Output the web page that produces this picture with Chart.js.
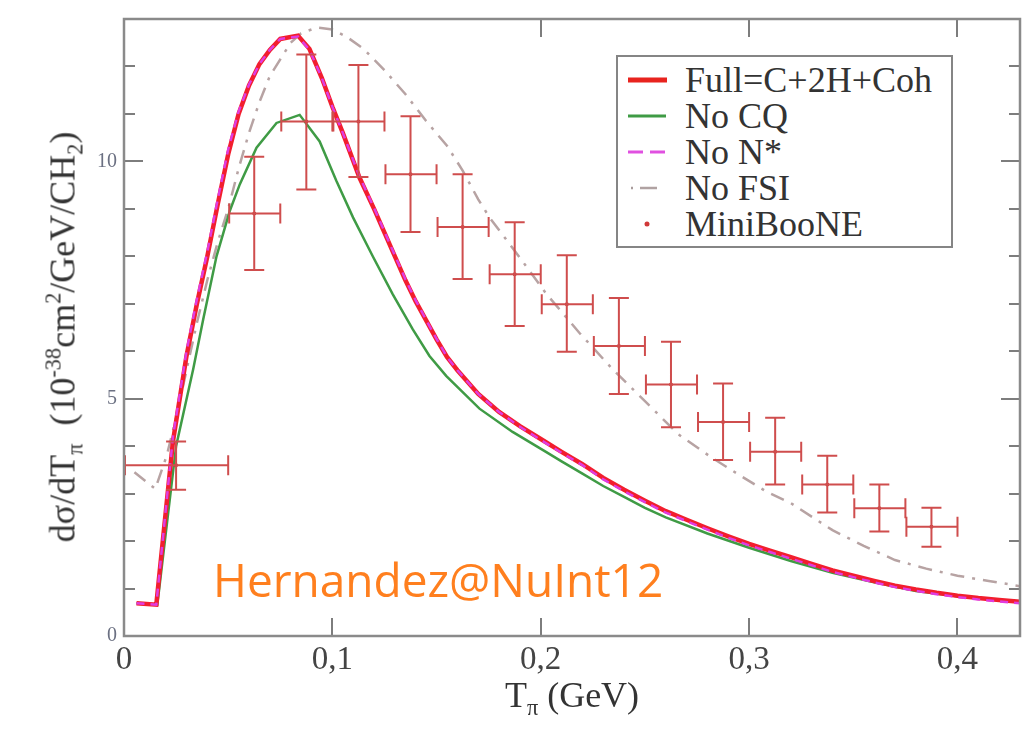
<!DOCTYPE html>
<html><head><meta charset="utf-8">
<script src="https://cdn.jsdelivr.net/npm/chart.js@4.4.0/dist/chart.umd.min.js"></script>
<style>
html,body{margin:0;padding:0;background:#fff;}
#wrap{position:relative;width:1032px;height:732px;overflow:hidden;background:#fff;}
#c{position:absolute;left:0;top:0;}
.serif, .serif *{font-family:"Liberation Serif","Times New Roman",serif;}
.serif{color:#333;}
.sup{font-size:0.62em;position:relative;top:-0.62em;}
.sub{font-size:0.62em;position:relative;top:0.38em;}
#ytitle{position:absolute;left:65px;top:337px;transform:translate(-50%,-50%) rotate(-90deg);white-space:nowrap;font-size:36px;line-height:40px;}
#xtitle{position:absolute;left:572px;top:697px;transform:translate(-50%,-50%);white-space:nowrap;font-size:36px;line-height:40px;}
#legend{position:absolute;left:616px;top:55px;width:333px;height:189px;border:2px solid #858585;background:#fff;}
.row{position:absolute;left:0;width:333px;height:36px;}
.row svg{position:absolute;left:10px;top:0;}
.row span{position:absolute;left:67px;top:0;line-height:36px;font-size:36px;white-space:nowrap;color:#333;}
#stamp{position:absolute;left:213px;top:556px;font-family:"Open Sans",sans-serif;font-size:46px;line-height:46px;color:#ff7f1e;white-space:nowrap;}
</style>
</head><body>
<div id="wrap">
<canvas id="c" width="1032" height="732"></canvas>
<div id="ytitle" class="serif">dσ/dT<span class="sub">π</span>&nbsp; (10<span class="sup">-38</span>cm<span class="sup">2</span>/GeV/CH<span class="sub">2</span>)</div>
<div id="xtitle" class="serif">T<span class="sub">π</span> (GeV)</div>
<div id="stamp">Hernandez@NuInt12</div>
<div id="legend" class="serif">
  <div class="row" style="top:5px"><svg width="45" height="36"><line x1="0" y1="18" x2="39" y2="18" stroke="#e8231e" stroke-width="5"/></svg><span>Full=C+2H+Coh</span></div>
  <div class="row" style="top:41px"><svg width="45" height="36"><line x1="0" y1="18" x2="38" y2="18" stroke="#3f9b45" stroke-width="3"/></svg><span>No CQ</span></div>
  <div class="row" style="top:77px"><svg width="45" height="36"><line x1="0" y1="18" x2="15" y2="18" stroke="#e050e0" stroke-width="3"/><line x1="22" y1="18" x2="37" y2="18" stroke="#e050e0" stroke-width="3"/></svg><span>No N*</span></div>
  <div class="row" style="top:113px"><svg width="45" height="36"><line x1="3" y1="18" x2="5" y2="18" stroke="#a99c9c" stroke-width="2.5"/><line x1="12" y1="18" x2="29" y2="18" stroke="#b0a2a2" stroke-width="2.5"/></svg><span>No FSI</span></div>
  <div class="row" style="top:149px"><svg width="45" height="36"><circle cx="19" cy="18" r="2.5" fill="#d03838"/></svg><span>MiniBooNE</span></div>
</div>
</div>
<script>
// ---- data (T_pi in GeV, cross section in 1e-38 cm^2/GeV/CH2) ----
const fullT = [0.006, 0.0155, 0.0235, 0.03, 0.035, 0.04, 0.045, 0.05, 0.055, 0.06, 0.065, 0.07, 0.075, 0.0835, 0.089, 0.095, 0.1, 0.105, 0.113, 0.12, 0.125, 0.13, 0.135, 0.14, 0.145, 0.15, 0.155, 0.16, 0.17, 0.18, 0.19, 0.2, 0.21, 0.22, 0.23, 0.24, 0.25, 0.26, 0.27, 0.28, 0.29, 0.3, 0.31, 0.32, 0.33, 0.34, 0.35, 0.36, 0.37, 0.38, 0.39, 0.4, 0.41, 0.42, 0.43];
const fullY = [0.69, 0.66, 4.1, 5.9, 7.0, 8.0, 9.1, 10.15, 11.0, 11.6, 12.05, 12.35, 12.58, 12.65, 12.37, 11.75, 11.15, 10.6, 9.66, 9.0, 8.5, 8.0, 7.5, 7.05, 6.65, 6.25, 5.88, 5.6, 5.1, 4.72, 4.42, 4.15, 3.88, 3.62, 3.33, 3.08, 2.85, 2.63, 2.45, 2.27, 2.1, 1.94, 1.8, 1.66, 1.52, 1.38, 1.27, 1.16, 1.06, 0.98, 0.91, 0.85, 0.8, 0.76, 0.72];
const noNstarY = [0.69, 0.66, 4.2, 6.0, 7.1, 8.1, 9.2, 10.25, 11.05, 11.62, 12.05, 12.35, 12.58, 12.63, 12.35, 11.75, 11.15, 10.6, 9.68, 9.02, 8.52, 8.02, 7.52, 7.07, 6.66, 6.26, 5.88, 5.6, 5.1, 4.72, 4.41, 4.13, 3.86, 3.6, 3.3, 3.05, 2.82, 2.6, 2.42, 2.24, 2.07, 1.91, 1.77, 1.63, 1.49, 1.35, 1.24, 1.13, 1.03, 0.95, 0.88, 0.82, 0.77, 0.73, 0.69];
const noCQT = [0.006, 0.016, 0.025, 0.0332, 0.038, 0.0444, 0.0508, 0.0556, 0.0636, 0.0732, 0.0843, 0.0939, 0.1019, 0.1099, 0.1195, 0.129, 0.1386, 0.1466, 0.1546, 0.1706, 0.1865, 0.2025, 0.21, 0.22, 0.23, 0.24, 0.25, 0.26, 0.28, 0.3, 0.32, 0.34, 0.36, 0.38, 0.4, 0.43];
const noCQY = [0.69, 0.66, 4.0, 5.62, 6.67, 8.0, 8.96, 9.52, 10.29, 10.81, 10.98, 10.42, 9.59, 8.82, 7.99, 7.2, 6.46, 5.90, 5.48, 4.79, 4.30, 3.88, 3.68, 3.42, 3.16, 2.93, 2.7, 2.5, 2.16, 1.86, 1.58, 1.33, 1.13, 0.95, 0.84, 0.72];
const noFSIT = [0.005, 0.015, 0.0205, 0.025, 0.03, 0.035, 0.04, 0.045, 0.05, 0.055, 0.06, 0.065, 0.07, 0.075, 0.08, 0.085, 0.0925, 0.1, 0.107, 0.115, 0.125, 0.135, 0.145, 0.155, 0.1626, 0.17, 0.1754, 0.19, 0.2025, 0.2185, 0.2345, 0.25, 0.266, 0.282, 0.295, 0.308, 0.32, 0.34, 0.355, 0.37, 0.385, 0.4, 0.415, 0.43];
const noFSIY = [3.45, 3.1, 3.8, 4.6, 5.6, 6.6, 7.5, 8.3, 9.0, 9.85, 10.6, 11.25, 11.8, 12.15, 12.5, 12.7, 12.82, 12.78, 12.62, 12.37, 11.92, 11.42, 10.85, 10.33, 9.8, 9.2, 8.82, 7.97, 7.22, 6.39, 5.62, 4.95, 4.25, 3.76, 3.4, 3.05, 2.8, 2.23, 1.9, 1.6, 1.42, 1.27, 1.16, 1.05];
const mbT = [0.025, 0.0625, 0.0875, 0.1125, 0.1375, 0.1625, 0.1875, 0.2125, 0.2375, 0.2625, 0.2875, 0.3125, 0.3375, 0.3625, 0.3875];
const mbY = [3.6, 8.9, 10.84, 10.84, 9.73, 8.62, 7.62, 6.99, 6.11, 5.30, 4.51, 3.88, 3.19, 2.69, 2.30];
const mbLow = [3.08, 7.71, 9.41, 9.67, 8.51, 7.52, 6.53, 5.99, 5.10, 4.4, 3.71, 3.19, 2.6, 2.2, 1.88];
const mbHigh = [4.1, 10.1, 12.25, 12.03, 10.95, 9.73, 8.72, 8.02, 7.12, 6.2, 5.32, 4.6, 3.8, 3.19, 2.7];
const mbHalfBin = [0.025, 0.0125, 0.0125, 0.0125, 0.0125, 0.0125, 0.0125, 0.0125, 0.0125, 0.0125, 0.0125, 0.0125, 0.0125, 0.0125, 0.0125];
const xTickStep = 0.1;
const yTickStep = 1;
const yLabelEvery = 5;

const pts = (xs, ys) => xs.map((v, i) => ({x: v, y: ys[i]}));

const errorBars = {
  id: 'errorBars',
  afterDatasetsDraw(chart) {
    const {ctx, scales: {x, y}} = chart;
    ctx.save();
    ctx.beginPath();
    ctx.rect(chart.chartArea.left, chart.chartArea.top, chart.chartArea.width, chart.chartArea.height);
    ctx.clip();
    ctx.strokeStyle = '#cf4d4d';
    ctx.lineWidth = 2;
    const cap = 10;
    for (let i = 0; i < mbT.length; i++) {
      const px = x.getPixelForValue(mbT[i]);
      const py = y.getPixelForValue(mbY[i]);
      const x0 = x.getPixelForValue(mbT[i] - mbHalfBin[i]);
      const x1 = x.getPixelForValue(mbT[i] + mbHalfBin[i]);
      const y0 = y.getPixelForValue(mbLow[i]);
      const y1 = y.getPixelForValue(mbHigh[i]);
      ctx.beginPath();
      ctx.moveTo(x0, py); ctx.lineTo(x1, py);
      ctx.moveTo(x0 + 1, py - cap); ctx.lineTo(x0 + 1, py + cap);
      ctx.moveTo(x1, py - cap); ctx.lineTo(x1, py + cap);
      ctx.moveTo(px, y0); ctx.lineTo(px, y1);
      ctx.moveTo(px - cap, y0); ctx.lineTo(px + cap, y0);
      ctx.moveTo(px - cap, y1); ctx.lineTo(px + cap, y1);
      ctx.stroke();
    }
    ctx.restore();
  }
};

const frame = {
  id: 'frame',
  afterDraw(chart) {
    const {ctx, chartArea: a, scales: {x, y}} = chart;
    ctx.save();
    ctx.strokeStyle = '#7d7d7d';
    ctx.lineWidth = 2;
    x.ticks.forEach(t => {
      if (t.value <= 0) return;
      const px = Math.round(x.getPixelForValue(t.value));
      ctx.beginPath();
      ctx.moveTo(px, a.bottom); ctx.lineTo(px, a.bottom - 18);
      ctx.moveTo(px, a.top); ctx.lineTo(px, a.top + 18);
      ctx.stroke();
    });
    y.ticks.forEach(t => {
      if (t.value <= 0 || t.value >= 13) return;
      const py = Math.round(y.getPixelForValue(t.value));
      const len = (Math.round(t.value) % yLabelEvery === 0) ? 19 : 11;
      ctx.beginPath();
      ctx.moveTo(a.left, py); ctx.lineTo(a.left + len, py);
      ctx.moveTo(a.right, py); ctx.lineTo(a.right - len, py);
      ctx.stroke();
    });
    ctx.strokeStyle = '#8a8a8a';
    ctx.lineWidth = 2.5;
    ctx.strokeRect(a.left, a.top, a.right - a.left, a.bottom - a.top);
    ctx.restore();
  }
};

new Chart(document.getElementById('c'), {
  type: 'scatter',
  data: {
    datasets: [
      {label: 'MiniBooNE', data: pts(mbT, mbY), pointRadius: 2, pointBackgroundColor: '#d03030', pointBorderWidth: 0, order: 0},
      {label: 'No N*', data: pts(fullT, noNstarY), showLine: true, borderColor: '#e03ce0', borderWidth: 2.5, borderDash: [8, 6], pointRadius: 0, order: 1},
      {label: 'Full=C+2H+Coh', data: pts(fullT, fullY), showLine: true, borderColor: '#f21e2e', borderWidth: 4.5, pointRadius: 0, order: 2},
      {label: 'No CQ', data: pts(noCQT, noCQY), showLine: true, borderColor: '#3f9b45', borderWidth: 2.5, pointRadius: 0, order: 3},
      {label: 'No FSI', data: pts(noFSIT, noFSIY), showLine: true, borderColor: '#b7a3a3', borderWidth: 2.5, borderDash: [14, 8, 3, 8], pointRadius: 0, order: 4}
    ]
  },
  options: {
    responsive: false,
    animation: false,
    devicePixelRatio: 1,
    layout: {padding: {top: 13, right: 12, left: 0, bottom: 0}},
    plugins: {legend: {display: false}, tooltip: {enabled: false}},
    scales: {
      x: {
        type: 'linear', min: 0, max: 0.43,
        afterFit(s) { s.height = 96; },
        grid: {display: false, drawTicks: false},
        border: {display: false},
        ticks: {
          stepSize: xTickStep, includeBounds: false, padding: 5, autoSkip: false, maxRotation: 0,
          font: {family: 'Liberation Serif', size: 33}, color: '#444',
          callback: v => (Math.abs(v) < 1e-9 ? '0' : v.toFixed(1).replace('.', ','))
        }
      },
      y: {
        type: 'linear', min: 0, max: 13,
        afterFit(s) { s.width = 124; },
        grid: {display: false, drawTicks: false},
        border: {display: false},
        ticks: {
          stepSize: yTickStep, includeBounds: false, padding: 7, autoSkip: false,
          font: {family: 'Liberation Serif', size: 20}, color: '#6b7082',
          callback: v => (Math.round(v) % yLabelEvery === 0 ? String(Math.round(v)) : '')
        }
      }
    }
  },
  plugins: [errorBars, frame]
});
</script>
</body></html>
